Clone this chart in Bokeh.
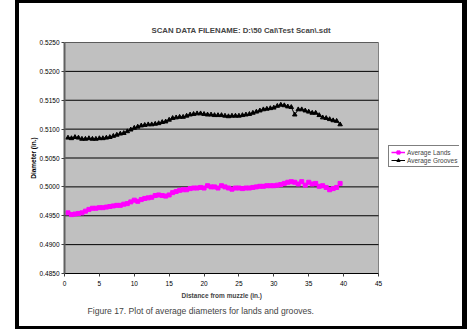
from bokeh.plotting import figure
from bokeh.models import Range1d, Legend, LegendItem, FixedTicker, NumeralTickFormatter, Title
from bokeh.embed import file_html
from bokeh.resources import INLINE

distance = [0.5, 1.0, 1.5, 2.0, 2.5, 3.0, 3.5, 4.0, 4.5, 5.0,
            5.5, 6.0, 6.5, 7.0, 7.5, 8.0, 8.5, 9.0, 9.5, 10.0,
            10.5, 11.0, 11.5, 12.0, 12.5, 13.0, 13.5, 14.0, 14.5, 15.0,
            15.5, 16.0, 16.5, 17.0, 17.5, 18.0, 18.5, 19.0, 19.5, 20.0,
            20.5, 21.0, 21.5, 22.0, 22.5, 23.0, 23.5, 24.0, 24.5, 25.0,
            25.5, 26.0, 26.5, 27.0, 27.5, 28.0, 28.5, 29.0, 29.5, 30.0,
            30.5, 31.0, 31.5, 32.0, 32.5, 33.0, 33.5, 34.0, 34.5, 35.0,
            35.5, 36.0, 36.5, 37.0, 37.5, 38.0, 38.5, 39.0, 39.5]

average_lands = [0.4955, 0.4952, 0.4953, 0.4954, 0.4955, 0.4958, 0.4961, 0.4963, 0.4963, 0.4964,
                 0.4964, 0.4965, 0.4966, 0.4967, 0.4968, 0.4968, 0.4970, 0.4971, 0.4974, 0.4977,
                 0.4975, 0.4978, 0.4980, 0.4981, 0.4982, 0.4985, 0.4986, 0.4985, 0.4984, 0.4986,
                 0.4990, 0.4992, 0.4994, 0.4995, 0.4995, 0.4997, 0.4998, 0.4998, 0.4999, 0.4998,
                 0.5002, 0.5000, 0.5000, 0.4998, 0.5002, 0.5000, 0.4998, 0.4996, 0.4998, 0.4998,
                 0.4997, 0.4998, 0.4998, 0.4999, 0.5000, 0.5001, 0.5001, 0.5002, 0.5002, 0.5002,
                 0.5003, 0.5004, 0.5006, 0.5008, 0.5009, 0.5008, 0.5005, 0.5009, 0.5003, 0.5008,
                 0.5005, 0.5006, 0.5001, 0.5002, 0.4999, 0.4995, 0.4997, 0.4999, 0.5006]

average_grooves = [0.5085, 0.5084, 0.5086, 0.5085, 0.5083, 0.5083, 0.5084, 0.5083, 0.5083, 0.5084,
                   0.5084, 0.5085, 0.5086, 0.5088, 0.5090, 0.5092, 0.5093, 0.5096, 0.5099, 0.5102,
                   0.5104, 0.5106, 0.5107, 0.5108, 0.5108, 0.5109, 0.5110, 0.5112, 0.5113, 0.5116,
                   0.5119, 0.5120, 0.5121, 0.5121, 0.5123, 0.5125, 0.5126, 0.5127, 0.5127, 0.5126,
                   0.5125, 0.5125, 0.5124, 0.5124, 0.5124, 0.5123, 0.5122, 0.5123, 0.5123, 0.5123,
                   0.5124, 0.5125, 0.5126, 0.5128, 0.5130, 0.5132, 0.5134, 0.5135, 0.5136, 0.5137,
                   0.5140, 0.5142, 0.5141, 0.5139, 0.5138, 0.5125, 0.5134, 0.5134, 0.5132, 0.5130,
                   0.5128, 0.5128, 0.5124, 0.5120, 0.5119, 0.5117, 0.5115, 0.5114, 0.5108]

x_ticks = [0, 5, 10, 15, 20, 25, 30, 35, 40, 45]
y_ticks = [0.4850, 0.4900, 0.4950, 0.5000, 0.5050, 0.5100, 0.5150, 0.5200, 0.5250]

title_text = "SCAN DATA FILENAME: D:\\50 Cal\\Test Scan\\.sdt"
x_label = "Distance from muzzle (in.)"
y_label = "Diameter (in.)"
caption_text = "Figure 17.  Plot of average diameters for lands and grooves."
FONT = "Liberation Sans"

W, H = 467, 329
BL, BR, BT, BB = 64, 8, 42, 56
X_MIN, X_MAX = x_ticks[0], x_ticks[-1]
Y_MIN, Y_MAX = y_ticks[0], y_ticks[-1]
PLOT_W = 314  # pixel width of the grey plot area (0..45)
frame_w = W - BL - BR
x_end = X_MAX * frame_w / PLOT_W

bar = "linear-gradient(#000,#000)"
frame_css = (f"{bar} 15px 0 / 4px 100% no-repeat, "
             f"{bar} right 0 top 0 / 5px 100% no-repeat, "
             f"{bar} 15px 0 / calc(100% - 15px) 3px no-repeat, "
             f"{bar} 15px 100% / calc(100% - 15px) 3px no-repeat, white")

p = figure(width=W, height=H, output_backend="svg", toolbar_location=None,
           x_range=Range1d(X_MIN, x_end), y_range=Range1d(Y_MIN, Y_MAX),
           min_border_left=BL, min_border_right=BR, min_border_top=BT, min_border_bottom=BB,
           background_fill_color="white", border_fill_alpha=0,
           outline_line_color=None,
           styles={"background": frame_css})

# grey plot area and horizontal gridlines
p.quad(left=[X_MIN], right=[X_MAX], bottom=[Y_MIN], top=[Y_MAX],
       fill_color="#C0C0C0", line_color="#808080", line_width=1)
p.segment(x0=[X_MIN] * len(y_ticks), x1=[X_MAX] * len(y_ticks), y0=y_ticks, y1=y_ticks,
          line_color="black", line_width=1)

p.title.text = title_text
p.title.text_font = FONT
p.title.text_font_size = "7.8px"
p.title.text_font_style = "bold"
p.title.align = "left"
p.title.offset = 87
p.title.standoff = 16

p.xgrid.grid_line_color = None
p.ygrid.grid_line_color = None

# axes
p.xaxis.ticker = FixedTicker(ticks=x_ticks)
p.xaxis.bounds = (X_MIN, X_MAX)
p.yaxis.ticker = FixedTicker(ticks=y_ticks)
p.yaxis.formatter = NumeralTickFormatter(format="0.0000")
for ax in (p.xaxis[0], p.yaxis[0]):
    ax.major_label_text_font = FONT
    ax.major_label_text_font_size = "6.5px"
    ax.major_label_text_color = "black"
    ax.axis_label_text_font = FONT
    ax.axis_label_text_font_size = "6.5px"
    ax.axis_label_text_font_style = "bold"
    ax.axis_label_text_color = "black"
    ax.minor_tick_line_color = None
    ax.major_tick_in = 0
    ax.major_tick_out = 3
    ax.major_tick_line_color = "#404040"

p.xaxis.major_label_standoff = 4
p.xaxis.axis_line_color = "black"
p.yaxis.major_label_standoff = 2
p.yaxis.axis_label = y_label
p.yaxis.axis_label_standoff = 0
p.yaxis.axis_line_color = "#606060"
p.yaxis.axis_line_width = 2

l1 = p.line(distance, average_lands, line_color="#FF00FF", line_width=1.5)
m1 = p.scatter(distance, average_lands, marker="square", size=4,
               fill_color="#FF00FF", line_color="#FF00FF")
l2 = p.line(distance, average_grooves, line_color="black", line_width=1)
m2 = p.scatter(distance, average_grooves, marker="triangle", size=4.5,
               fill_color="black", line_color="black")

# x-axis label centred on the grey plot area, then the figure caption below it
xlab = Title(text=x_label, text_font=FONT, text_font_size="6.5px",
             text_font_style="bold", align="left", offset=117, standoff=2)
cap = Title(text=caption_text, text_font=FONT, text_font_size="8.6px",
            text_font_style="normal", align="left", offset=23, standoff=9)
p.add_layout(xlab, "below")
p.add_layout(cap, "below")

legend = Legend(items=[LegendItem(label="Average Lands", renderers=[l1, m1]),
                       LegendItem(label="Average Grooves", renderers=[l2, m2])],
                location=(324, 106), margin=0, padding=2, spacing=0,
                label_height=8, glyph_height=8, glyph_width=14, label_standoff=2,
                label_text_font=FONT, label_text_font_size="6.5px",
                border_line_color="black", border_line_width=1,
                background_fill_color="white", background_fill_alpha=1)
p.add_layout(legend, "center")

open("out.html", "w").write(file_html(p, INLINE))
